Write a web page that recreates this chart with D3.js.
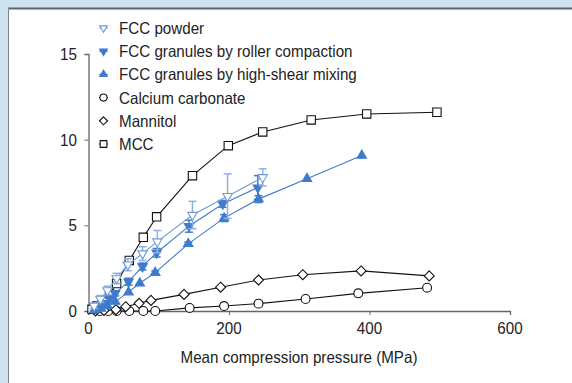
<!DOCTYPE html>
<html>
<head>
<meta charset="utf-8">
<script src="https://cdn.jsdelivr.net/npm/d3@7"></script>
<style>
  body { margin: 0; background: #cde3f1; }
  svg { display: block; }
</style>
</head>
<body>
<div id="chart"></div>
<script>
const W = 572;
const H = 383;

// series data (x = MPa, y = tensile strength)
const powderX = [8, 17, 27, 40, 56, 77, 98, 148, 198, 248];
const powderY = [0.3, 0.7, 1.2, 1.9, 2.7, 3.35, 4.05, 5.6, 6.7, 7.8];
const powderErr = [0.15, 0.2, 0.25, 0.3, 0.35, 0.4, 0.65, 0.8, 1.3, 0.5];

const rollerX = [10, 20, 30, 38, 57, 77, 97, 143, 191, 241];
const rollerY = [0.2, 0.45, 0.75, 1.03, 1.71, 2.6, 3.4, 4.95, 6.25, 7.2];
const rollerErr = [0.1, 0.1, 0.15, 0.15, 0.2, 0.2, 0.25, 0.35, 0.2, 0.7];

const shearX = [8, 18, 27, 38, 57, 73, 95, 142, 193, 242, 311, 389];
const shearY = [0.05, 0.15, 0.3, 0.55, 1.1, 1.62, 2.24, 3.92, 5.42, 6.53, 7.72, 9.08];
const shearErr = [0, 0, 0, 0, 0, 0, 0.1, 0.1, 0.2, 0.2, 0, 0];

const caX = [16, 28, 40, 58, 78, 95, 144, 193, 242, 309, 384, 482];
const caY = [0, 0, 0, 0, 0, 0, 0.18, 0.29, 0.43, 0.7, 1.03, 1.36];

const manX = [10, 22, 39, 53, 72, 89, 136, 188, 242, 305, 388, 485];
const manY = [0, 0.03, 0.08, 0.25, 0.45, 0.62, 0.97, 1.39, 1.81, 2.12, 2.34, 2.05];

const mccX = [5, 12, 22, 30, 40, 58, 78, 97, 148, 199, 248, 317, 396, 496];
const mccY = [0.1, 0.3, 0.6, 1.0, 1.6, 2.95, 4.3, 5.5, 7.9, 9.65, 10.45, 11.15, 11.5, 11.6];

const xTicks = [0, 200, 400, 600];
const yTicks = [0, 5, 10, 15];

const BLUE = '#3f7bcb';
const LIGHT = '#6e9ad8';
const NARROW = 0.92;

const series = [
    { name: 'FCC powder', x: powderX, y: powderY, err: powderErr, shape: 'tri', down: true, fill: '#fff', color: LIGHT, errColor: '#8fb0e0' },
    { name: 'FCC granules by roller compaction', x: rollerX, y: rollerY, err: rollerErr, shape: 'tri', down: true, fill: BLUE, color: BLUE, errColor: BLUE },
    { name: 'FCC granules by high-shear mixing', x: shearX, y: shearY, err: shearErr, shape: 'tri', down: false, fill: BLUE, color: BLUE, errColor: BLUE },
    { name: 'Calcium carbonate', x: caX, y: caY, shape: 'circle', fill: '#fff', color: '#111' },
    { name: 'Mannitol', x: manX, y: manY, shape: 'diamond', fill: '#fff', color: '#111' },
    { name: 'MCC', x: mccX, y: mccY, shape: 'square', fill: '#fff', color: '#111' },
];

const svg = d3.select('#chart')
    .append('svg')
    .attr('width', W)
    .attr('height', H)
    .style('font-family', '"Liberation Sans", Arial, sans-serif');

// white panel with border
svg.append('rect')
    .attr('x', 8.5).attr('y', 9)
    .attr('width', W).attr('height', H)
    .attr('fill', '#fff');
svg.append('line')
    .attr('x1', 8).attr('x2', W).attr('y1', 8.5).attr('y2', 8.5)
    .attr('stroke', '#5d6770').attr('stroke-width', 2);
svg.append('line')
    .attr('x1', 8.5).attr('x2', 8.5).attr('y1', 8).attr('y2', H)
    .attr('stroke', '#7d8790');

const xScale = d3.scaleLinear().domain([0, 600]).range([88.5, 510]);
const yScale = d3.scaleLinear().domain([0, 15]).range([311, 54]);

// narrow text helper: squeeze horizontally around the anchor point
const narrowText = (g, x, y, str, size, anchor) => {
    return g.append('text')
        .attr('transform', `translate(${x},${y}) scale(${NARROW},1)`)
        .attr('text-anchor', anchor || 'start')
        .attr('fill', '#222')
        .style('font-size', size + 'px')
        .text(str);
};

// Axes
const xAxis = svg.append('g')
    .attr('transform', `translate(0,${yScale(0)})`)
    .call(d3.axisBottom(xScale).tickValues(xTicks).tickSize(4).tickFormat(''));
const yAxis = svg.append('g')
    .attr('transform', `translate(${xScale(0)},0)`)
    .call(d3.axisLeft(yScale).tickValues(yTicks).tickSize(4).tickFormat(''));

[xAxis, yAxis].forEach(a => {
    a.select('.domain').attr('stroke', '#666').attr('stroke-width', 1.3);
    a.selectAll('.tick line').attr('stroke', '#666');
});

xTicks.forEach(t => narrowText(svg, xScale(t), 334, t, 16.5, 'middle'));
yTicks.forEach(t => narrowText(svg, 77, yScale(t) + 6, t, 16.5, 'end'));

narrowText(svg, 299, 363, 'Mean compression pressure (MPa)', 16.5, 'middle');

const diamondPath = r => `M0,${-r}L${r},0L0,${r}L${-r},0Z`;

const symbolPath = (s, k) => {
    if (s.shape === 'circle') return d3.symbol(d3.symbolCircle, 62 * k * k)();
    if (s.shape === 'square') return d3.symbol(d3.symbolSquare, 70 * k * k)();
    if (s.shape === 'diamond') return diamondPath(5 * k);
    return d3.symbol(d3.symbolTriangle, 38 * k * k)();
};

const drawMarker = (g, s, cx, cy, k) => {
    g.append('path')
        .attr('d', symbolPath(s, k || 1))
        .attr('transform', `translate(${cx},${cy})` + (s.down ? ' rotate(180)' : ''))
        .attr('fill', s.fill)
        .attr('stroke', s.color)
        .attr('stroke-width', 1.1);
};

const line = d3.line()
    .x(d => xScale(d.x))
    .y(d => yScale(d.y));

// draw black series first, then blue on top
const order = [3, 4, 5, 2, 1, 0];
order.forEach(i => {
    const s = series[i];
    const pts = s.x.map((x, j) => ({ x: x, y: s.y[j], e: s.err ? s.err[j] : 0 }));
    const g = svg.append('g');

    g.append('path')
        .datum(pts)
        .attr('d', line)
        .attr('fill', 'none')
        .attr('stroke', s.color)
        .attr('stroke-width', 1.1);

    // error bars
    pts.filter(d => d.e > 0).forEach(d => {
        const x = xScale(d.x);
        const y1 = yScale(d.y + d.e);
        const y2 = yScale(d.y - d.e);
        g.append('line').attr('x1', x).attr('x2', x).attr('y1', y1).attr('y2', y2)
            .attr('stroke', s.errColor).attr('stroke-width', 1.5);
        [y1, y2].forEach(yy => {
            g.append('line').attr('x1', x - 4).attr('x2', x + 4).attr('y1', yy).attr('y2', yy)
                .attr('stroke', s.errColor).attr('stroke-width', 1.5);
        });
    });

    pts.forEach(d => drawMarker(g, s, xScale(d.x), yScale(d.y)));
});

// Legend
const legend = svg.append('g');
series.forEach((s, i) => {
    const ly = 28 + i * 23.2;
    legend.append('line')
        .attr('x1', 99).attr('x2', 108).attr('y1', ly).attr('y2', ly)
        .attr('stroke', s.color).attr('stroke-width', 1);
    drawMarker(legend, s, 103.5, ly, 0.8);
    narrowText(legend, 119, ly + 6, s.name, 16.5);
});
</script>
</body>
</html>
